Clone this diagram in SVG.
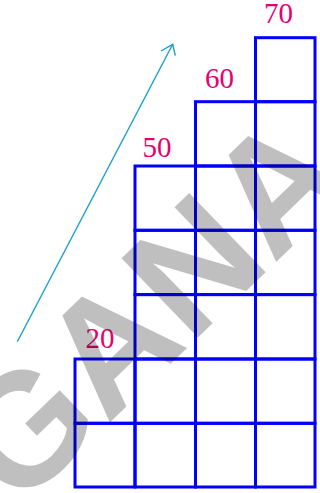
<svg xmlns="http://www.w3.org/2000/svg" width="320" height="493" viewBox="0 0 320 493">
<style>
.cell{fill:none;stroke:#0000ff;stroke-width:3;stroke-linejoin:miter}
.lbl{font-family:"Liberation Serif","DejaVu Serif",serif;font-size:29px;fill:#e6006e}
.arr{fill:none;stroke:#1a9fcc;stroke-width:1.4}
.wm{font-family:"Liberation Sans",Arial,sans-serif;font-weight:bold;font-size:160px;fill:#000;fill-opacity:0.25}
</style>
<rect width="320" height="493" fill="#fff"/>
<g id="col1">
<rect class="cell" x="75" y="359" width="60" height="64.3"/>
<rect class="cell" x="75" y="423.3" width="60" height="63.7"/>
<text class="lbl" x="100" y="348" text-anchor="middle">20</text>
</g>
<g id="col2">
<rect class="cell" x="135" y="166" width="60.5" height="64.3"/>
<rect class="cell" x="135" y="230.3" width="60.5" height="64.3"/>
<rect class="cell" x="135" y="294.6" width="60.5" height="64.4"/>
<rect class="cell" x="135" y="359" width="60.5" height="64.3"/>
<rect class="cell" x="135" y="423.3" width="60.5" height="63.7"/>
<text class="lbl" x="157" y="157" text-anchor="middle">50</text>
</g>
<g id="col3">
<rect class="cell" x="195.5" y="101.7" width="60" height="64.3"/>
<rect class="cell" x="195.5" y="166" width="60" height="64.3"/>
<rect class="cell" x="195.5" y="230.3" width="60" height="64.3"/>
<rect class="cell" x="195.5" y="294.6" width="60" height="64.4"/>
<rect class="cell" x="195.5" y="359" width="60" height="64.3"/>
<rect class="cell" x="195.5" y="423.3" width="60" height="63.7"/>
<text class="lbl" x="219.5" y="88" text-anchor="middle">60</text>
</g>
<g id="col4">
<rect class="cell" x="255.5" y="37.7" width="59.5" height="64"/>
<rect class="cell" x="255.5" y="101.7" width="59.5" height="64.3"/>
<rect class="cell" x="255.5" y="166" width="59.5" height="64.3"/>
<rect class="cell" x="255.5" y="230.3" width="59.5" height="64.3"/>
<rect class="cell" x="255.5" y="294.6" width="59.5" height="64.4"/>
<rect class="cell" x="255.5" y="359" width="59.5" height="64.3"/>
<rect class="cell" x="255.5" y="423.3" width="59.5" height="63.7"/>
<text class="lbl" x="278.5" y="23" text-anchor="middle">70</text>
</g>
<g id="connectors">
<line class="arr" x1="17.3" y1="341.7" x2="172.7" y2="44.3"/>
<polyline class="arr" points="161,51 172.7,44.3 175.3,55.7"/>
</g>
<text class="wm" x="187" y="348" text-anchor="middle" transform="rotate(-44 187 348)">GANA</text>
</svg>
